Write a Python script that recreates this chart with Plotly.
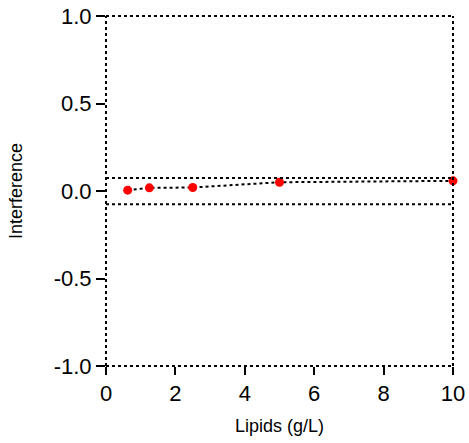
import plotly.graph_objects as go

# données
lipids = [0.625, 1.25, 2.5, 5, 10]
interference = [0.005, 0.018, 0.02, 0.05, 0.058]
band_limit = 0.075
x_ticks = [0, 2, 4, 6, 8, 10]
y_ticks = [-1.0, -0.5, 0.0, 0.5, 1.0]
y_tick_labels = ["-1.0", "-0.5", "0.0", "0.5", "1.0"]

fig = go.Figure()

fig.add_trace(go.Scatter(
    x=lipids, y=interference, mode="lines+markers",
    line=dict(color="black", width=2, dash="dot"),
    marker=dict(color="red", size=9),
    cliponaxis=False, showlegend=False,
))

# limites +/- autour de zéro
for lim in (band_limit, -band_limit):
    fig.add_hline(y=lim, line=dict(color="black", width=2, dash="dot"))

# cadre pointillé
for xx in (0, 1):
    fig.add_shape(type="line", xref="x domain", yref="y domain",
                  x0=xx, x1=xx, y0=0, y1=1,
                  line=dict(color="black", width=2, dash="dot"))
for yy in (0, 1):
    fig.add_shape(type="line", xref="x domain", yref="y domain",
                  x0=0, x1=1, y0=yy, y1=yy,
                  line=dict(color="black", width=2, dash="dot"))

font = "Liberation Sans, Arial, sans-serif"
fig.update_xaxes(range=[0, 10], tickvals=x_ticks, ticks="outside", ticklen=8,
                 tickcolor="black", tickwidth=1.5, showgrid=False, zeroline=False,
                 showline=False, automargin=False,
                 tickfont=dict(size=22, color="black", family=font),
                 title=dict(text="Lipids (g/L)", font=dict(size=18, color="black", family=font),
                            standoff=13))
fig.update_yaxes(range=[-1, 1], tickvals=y_ticks, ticktext=y_tick_labels, ticks="outside",
                 ticklen=9, tickcolor="black", tickwidth=1.5, showgrid=False, zeroline=False,
                 showline=False, automargin=False,
                 tickfont=dict(size=22, color="black", family=font),
                 title=dict(text="Interference", font=dict(size=18, color="black", family=font),
                            standoff=26))

fig.update_layout(width=469, height=443, plot_bgcolor="white", paper_bgcolor="white",
                  margin=dict(l=106, r=16, t=16, b=77), font=dict(family=font))

fig.write_html("out.html", config={"displayModeBar": False},
               post_script="document.body.style.margin='0px';")
